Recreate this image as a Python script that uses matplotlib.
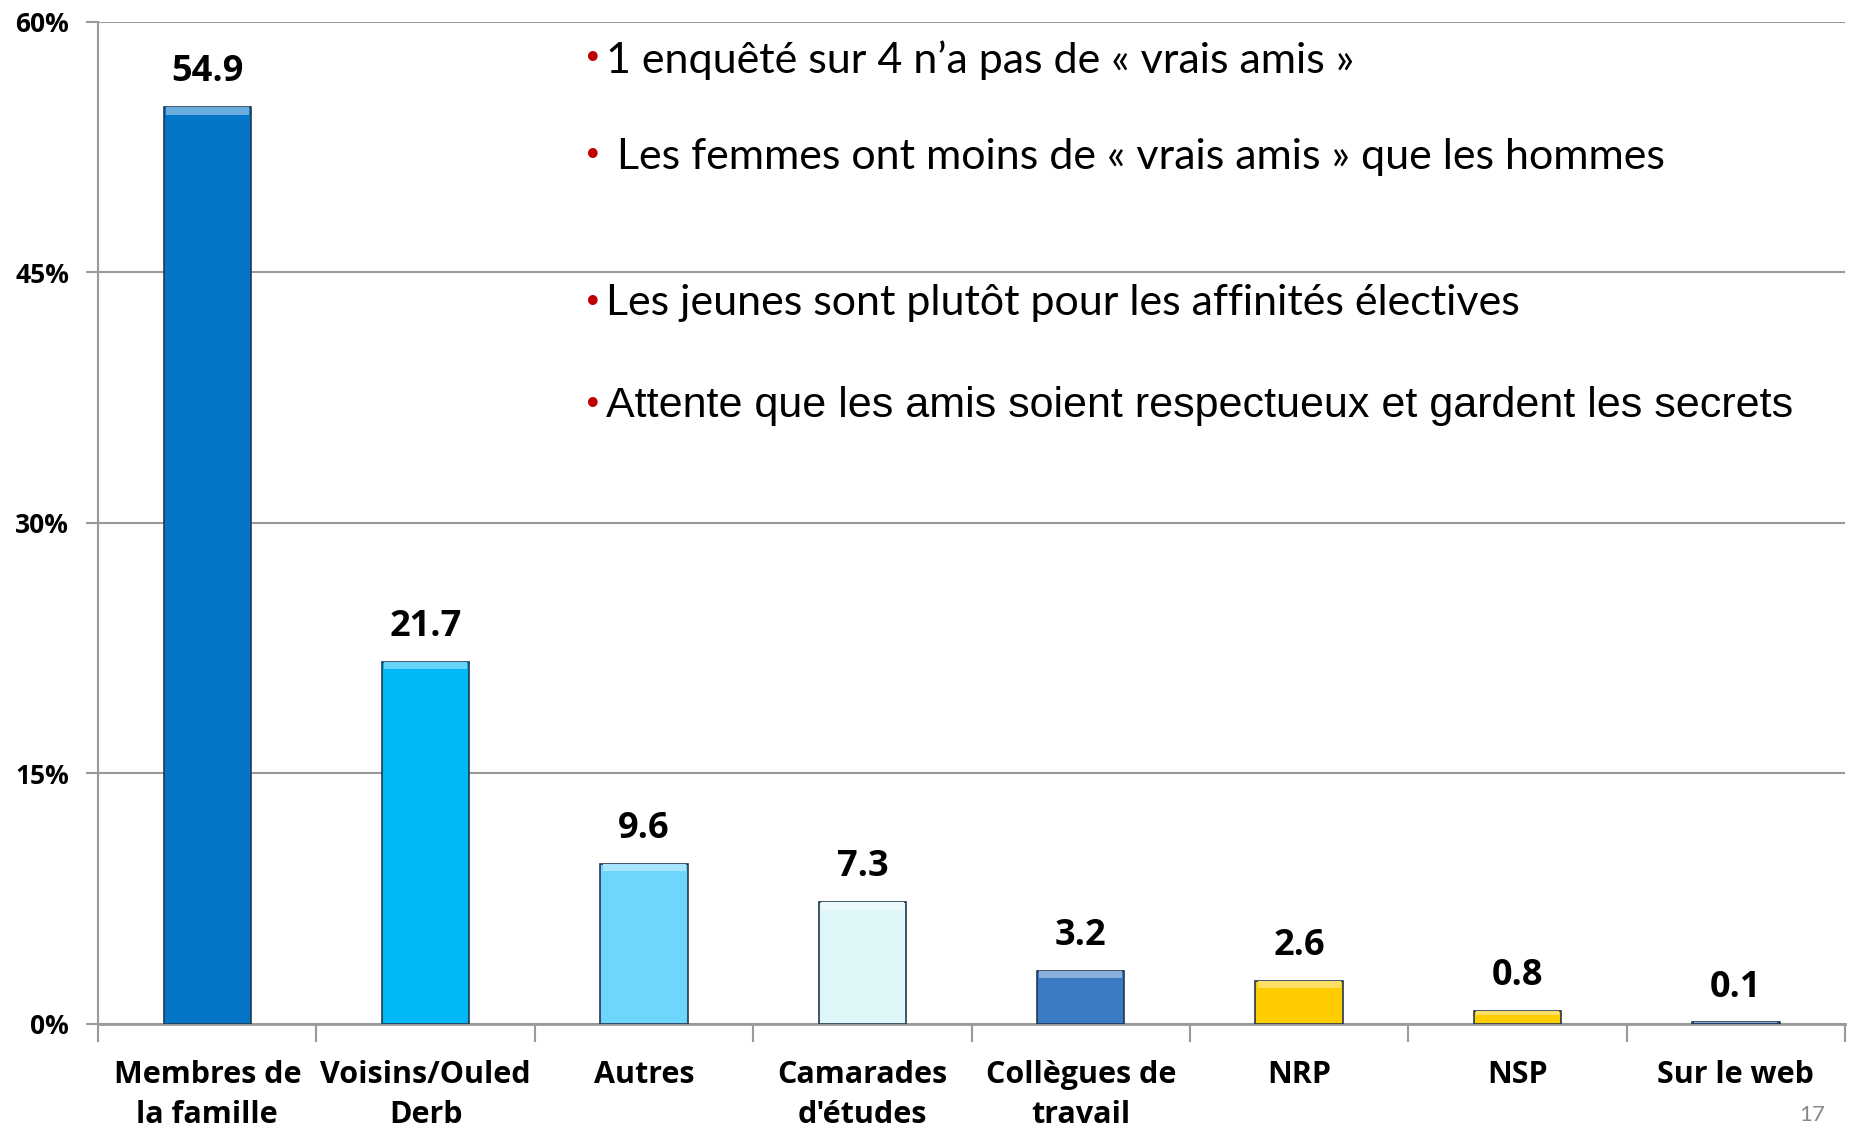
import matplotlib.pyplot as plt
import matplotlib.colors as mcolors
import numpy as np

categories = ["Membres de\nla famille", "Voisins/Ouled\nDerb", "Autres", "Camarades\nd'études",
              "Collègues de\ntravail", "NRP", "NSP", "Sur le web"]
values = [54.9, 21.7, 9.6, 7.3, 3.2, 2.6, 0.8, 0.1]
value_labels = ["54.9", "21.7", "9.6", "7.3", "3.2", "2.6", "0.8", "0.1"]
bar_colors = ["#0575C8", "#00B8F5", "#6DD6FD", "#DEF8FA", "#3A7CC4", "#FFCC00", "#FFCC00", "#2E6FC0"]
y_ticks = [0, 15, 30, 45, 60]

notes = ["1 enquêté sur 4 n’a pas de « vrais amis »",
         " Les femmes ont moins de « vrais amis » que les hommes",
         "Les jeunes sont plutôt pour les affinités électives",
         "Attente que les amis soient respectueux et gardent les secrets"]

fig = plt.figure(figsize=(18.51, 11.27), dpi=100)
ax = fig.add_axes([0.053, 0.0914, 0.9438, 0.8891])

x = np.arange(len(values))
vals = np.array(values)
ax.bar(x, vals, width=0.4, color=bar_colors, edgecolor="#22384f", linewidth=1.2, zorder=3)

# petit effet de biseau en haut des barres
light = [tuple(0.6 * np.array(mcolors.to_rgb(c)) + 0.4) for c in bar_colors]
hl = np.minimum(vals * 0.3, 0.45)
ax.bar(x, hl, bottom=vals - hl, width=0.38, color=light, linewidth=0, zorder=4)

for xi, v, lab in zip(x, values, value_labels):
    ax.text(xi, v + 1.0, lab, ha="center", va="bottom", fontsize=26, fontweight="bold",
            family="Open Sans", color="black")

ax.set_xlim(-0.5, len(values) - 0.5)
ax.set_ylim(0, 60)
ax.set_yticks(y_ticks)
ax.set_yticklabels([f"{t}%" for t in y_ticks], fontsize=19, fontweight="bold", family="Open Sans")
ax.yaxis.grid(True, color="#9a9a9a", linewidth=1.5, zorder=0)
ax.tick_params(axis="y", length=9, width=1.5, color="#9a9a9a", pad=12)

ax.set_xticks(x)
ax.set_xticklabels(categories, fontsize=22, fontweight="bold", family="Open Sans", linespacing=1.42)
ax.set_xticks(np.arange(len(values) + 1) - 0.5, minor=True)
ax.tick_params(axis="x", which="major", length=0, pad=26)
ax.tick_params(axis="x", which="minor", length=13, width=1.5, color="#9a9a9a")

for s in ["top", "right"]:
    ax.spines[s].set_visible(False)
ax.spines["left"].set_color("#9a9a9a")
ax.spines["left"].set_linewidth(1.5)
ax.spines["bottom"].set_color("#9a9a9a")
ax.spines["bottom"].set_linewidth(2)

note_y = [0.947, 0.861, 0.731, 0.640]
note_fonts = ["Lato", "Lato", "Lato", "Liberation Sans"]
for txt, ny, fam in zip(notes, note_y, note_fonts):
    fig.text(0.3205, ny, "•", color="#c00000", fontsize=24, va="center", ha="center",
             family="DejaVu Sans")
    fig.text(0.3275, ny, txt, color="black", fontsize=31, va="center", family=fam)

fig.text(0.972, 0.002, "17", color="#888888", fontsize=16, va="bottom", family="Lato")

fig.savefig("out.png", dpi=100)
